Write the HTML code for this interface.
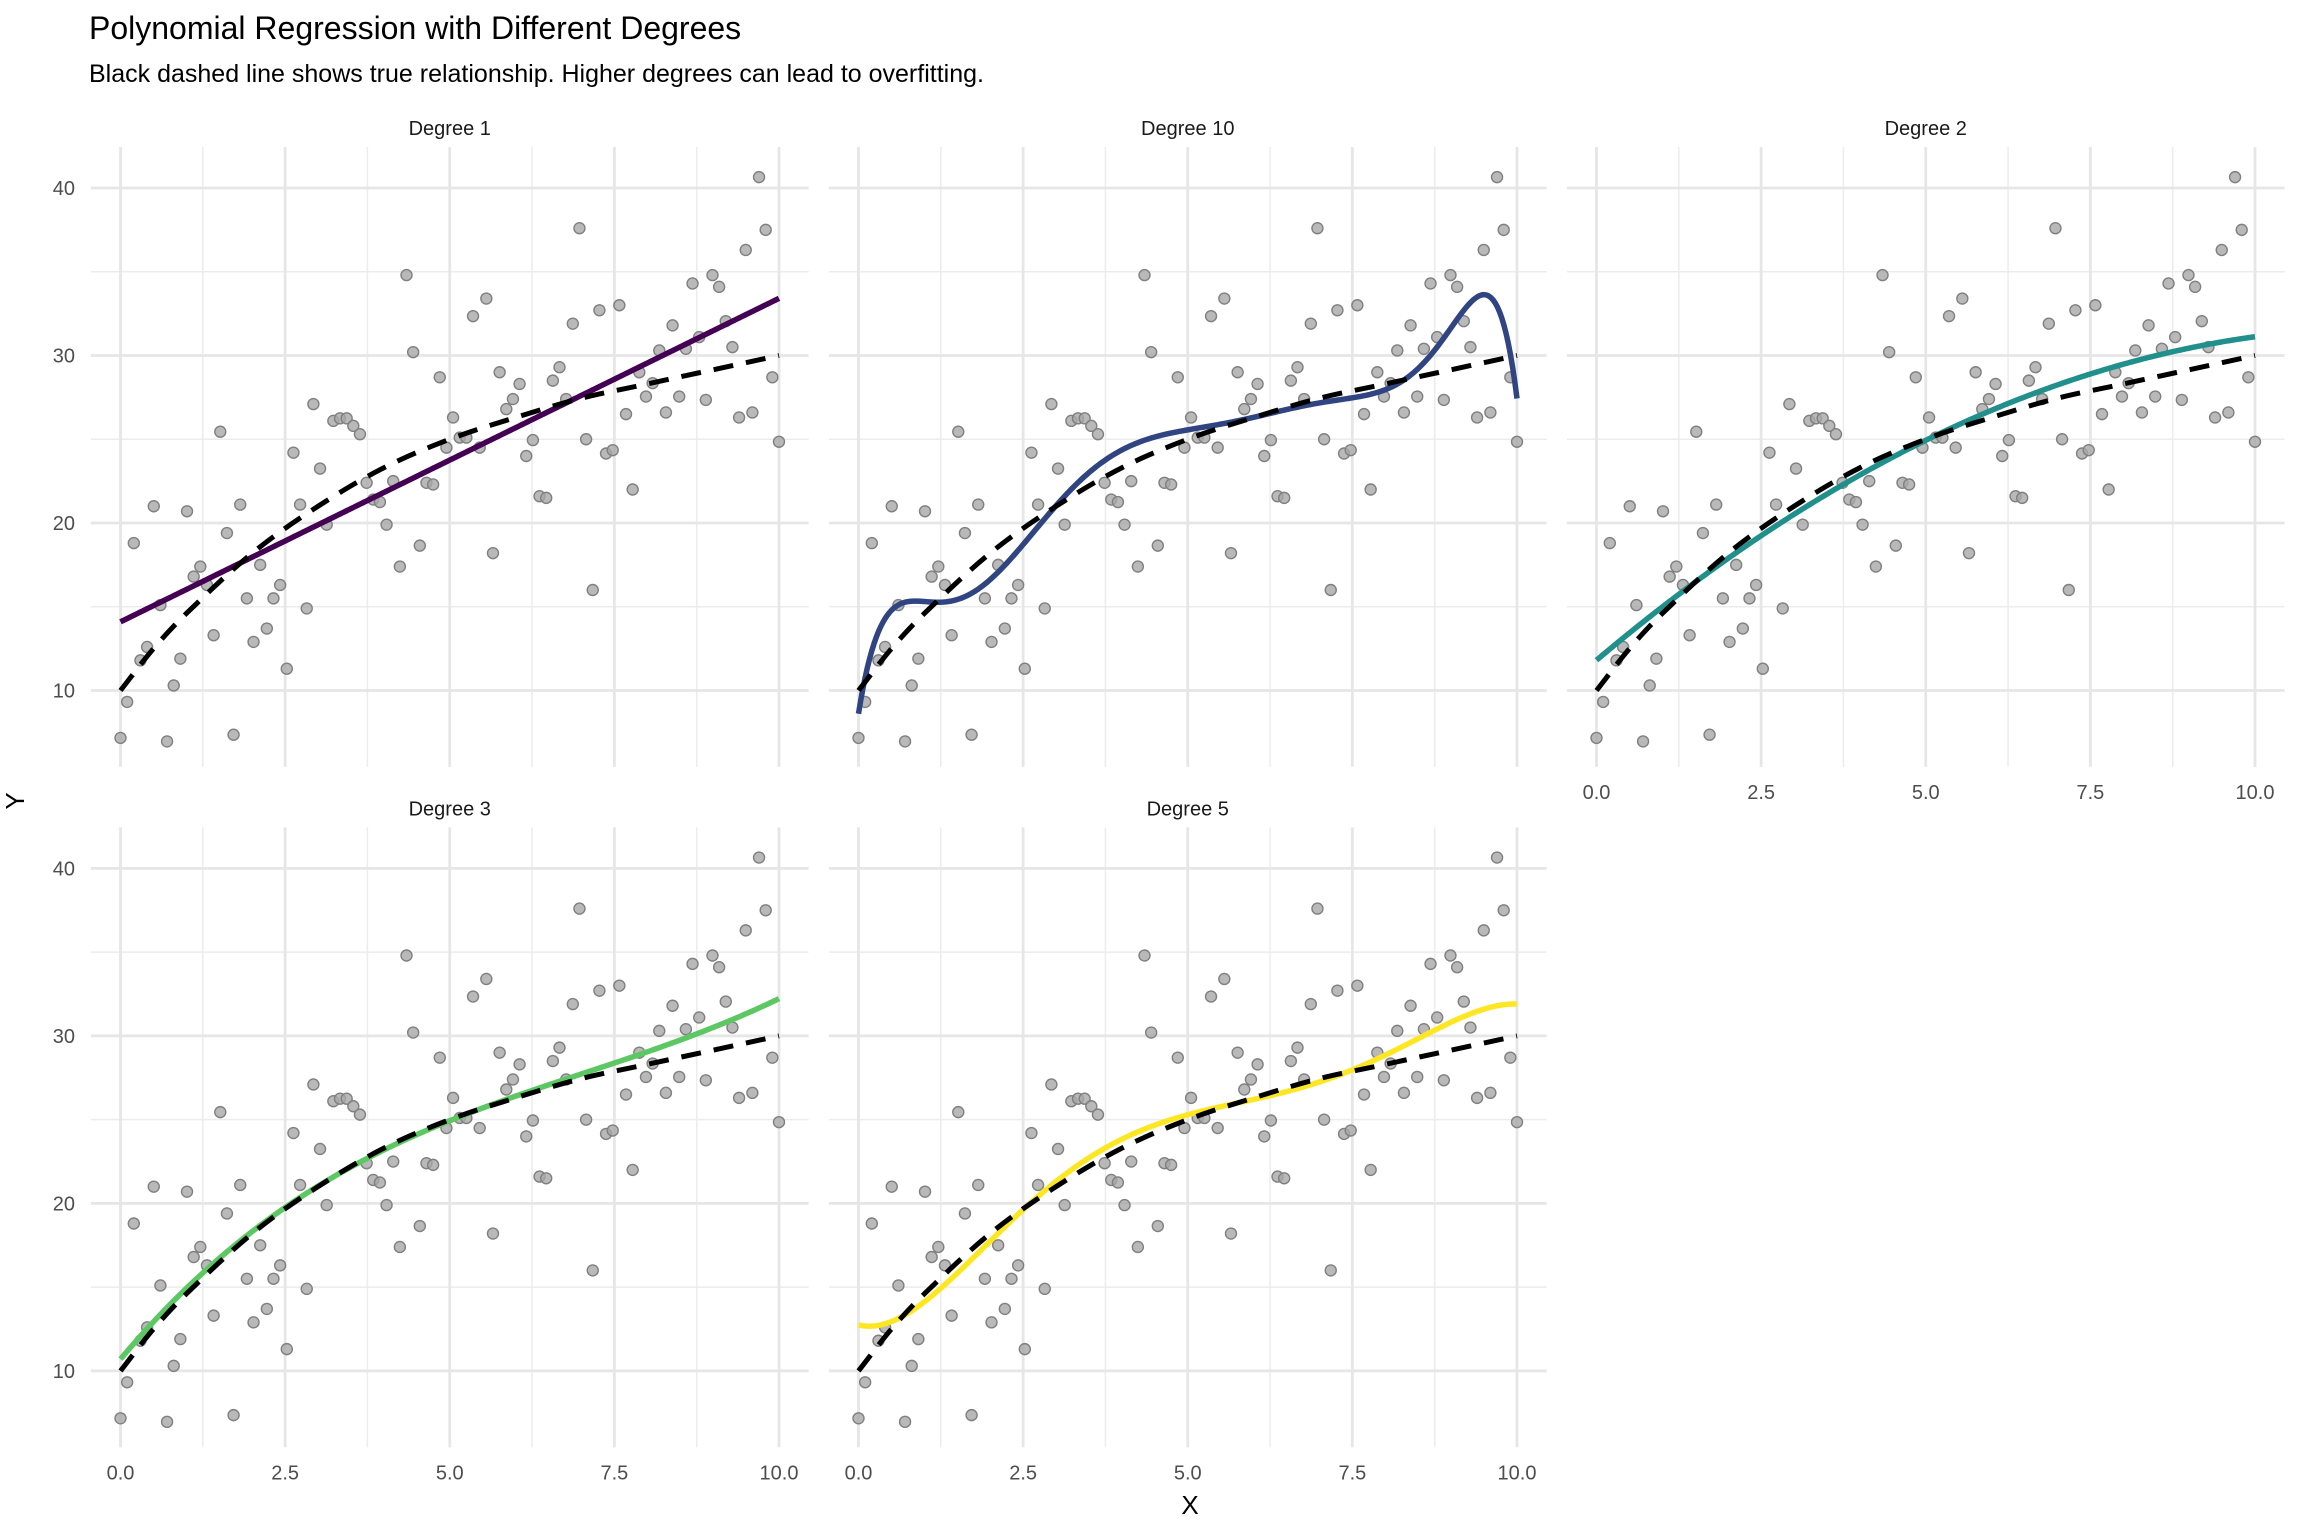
<!DOCTYPE html>
<html><head><meta charset="utf-8">
<style>
html,body{margin:0;padding:0;background:#fff;}
svg{display:block;font-family:"Liberation Sans",Arial,sans-serif;}
</style></head>
<body>
<svg id="chart" width="2304" height="1536" viewBox="0 0 2304 1536" xmlns="http://www.w3.org/2000/svg">
<rect x="0" y="0" width="2304" height="1536" fill="#ffffff"/>
<text x="89" y="39" font-size="32" fill="#000">Polynomial Regression with Different Degrees</text>
<text x="89" y="82" font-size="25" fill="#000">Black dashed line shows true relationship. Higher degrees can lead to overfitting.</text>
<text x="24" y="801" font-size="26" fill="#000" text-anchor="middle" transform="rotate(-90 24 801)">Y</text>
<text x="1190" y="1514" font-size="26" fill="#000" text-anchor="middle">X</text>
<g id="panels"></g>
</svg>
<script>
// ---- data ----
const pointY = [7.17,9.32,18.8,11.8,12.6,21.0,15.1,6.96,10.3,11.9,
20.7,16.8,17.4,16.3,13.3,25.45,19.4,7.36,21.1,15.5,
12.9,17.5,13.7,15.5,16.3,11.3,24.2,21.1,14.9,27.1,
23.25,19.9,26.1,26.25,26.25,25.8,25.3,22.4,21.4,21.25,
19.9,22.5,17.4,34.8,30.2,18.65,22.4,22.3,28.7,24.5,
26.3,25.1,25.1,32.35,24.5,33.4,18.2,29.0,26.8,27.4,
28.3,24.0,24.95,21.6,21.5,28.5,29.3,27.4,31.9,37.6,
25.0,16.0,32.7,24.15,24.35,33.0,26.5,22.0,29.0,27.55,
28.35,30.3,26.6,31.8,27.55,30.4,34.3,31.1,27.35,34.8,
34.1,32.05,30.5,26.3,36.3,26.6,40.65,37.5,28.7,24.85];
const pointX = pointY.map((_, i) => i * 10 / 99);
const trueX = [0,0.5,1,2,3,4,5,6,7,8,9,10];
const trueY = [10,12.5,14.6,18.2,21.0,23.3,25.0,26.3,27.45,28.3,29.15,30];
const panelNames = ["Degree 1","Degree 10","Degree 2","Degree 3","Degree 5"];
const degrees = [1,10,2,3,5];
const colors = ["#440154","#2f4480","#21908c","#5dc863","#fde725"];
const xTicks = [0,2.5,5,7.5,10];
const xTickLabels = ["0.0","2.5","5.0","7.5","10.0"];
const xMinor = [1.25,3.75,6.25,8.75];
const yTicks = [10,20,30,40];
const yTickLabels = ["10","20","30","40"];
const yMinor = [15,25,35];

// ---- layout ----
const NS = "http://www.w3.org/2000/svg";
const XMIN=-0.45, XMAX=10.45, YMIN=5.44, YMAX=42.45;
const PPUX=65.85, PPUY=16.75;
const colX0=[120.5,858.5,1596.5];
const rowY40=[188,868.4];
const panelPos=[[0,0],[0,1],[0,2],[1,0],[1,1]];
const root=document.getElementById('panels');
function mk(tag, attrs, parent){const e=document.createElementNS(NS,tag);for(const k in attrs)e.setAttribute(k,attrs[k]);parent.appendChild(e);return e;}

function fit(deg){
  const n=deg+1, A=[], b=new Array(n).fill(0);
  for(let i=0;i<n;i++)A.push(new Array(n).fill(0));
  for(let k=0;k<pointX.length;k++){
    const t=(pointX[k]-5)/5, p=[1];
    for(let j=1;j<n;j++)p.push(p[j-1]*t);
    for(let i=0;i<n;i++){b[i]+=p[i]*pointY[k];for(let j=0;j<n;j++)A[i][j]+=p[i]*p[j];}
  }
  for(let c=0;c<n;c++){
    let m=c;for(let r=c+1;r<n;r++)if(Math.abs(A[r][c])>Math.abs(A[m][c]))m=r;
    [A[c],A[m]]=[A[m],A[c]];[b[c],b[m]]=[b[m],b[c]];
    for(let r=c+1;r<n;r++){const f=A[r][c]/A[c][c];for(let j=c;j<n;j++)A[r][j]-=f*A[c][j];b[r]-=f*b[c];}
  }
  const co=new Array(n).fill(0);
  for(let i=n-1;i>=0;i--){let s=b[i];for(let j=i+1;j<n;j++)s-=A[i][j]*co[j];co[i]=s/A[i][i];}
  return x=>{const t=(x-5)/5;let s=0,p=1;for(let i=0;i<n;i++){s+=co[i]*p;p*=t;}return s;};
}
function catmull(xs,ys,sx,sy){
  let d=`M${sx(xs[0])},${sy(ys[0])}`;
  for(let i=0;i<xs.length-1;i++){
    const h=xs[i+1]-xs[i];
    const m1=i>0?(ys[i+1]-ys[i-1])/(xs[i+1]-xs[i-1]):(ys[1]-ys[0])/(xs[1]-xs[0]);
    const j=Math.min(i+2,xs.length-1);
    const m2=i+2<xs.length?(ys[j]-ys[i])/(xs[j]-xs[i]):(ys[i+1]-ys[i])/h;
    const c1x=xs[i]+h/3,c1y=ys[i]+m1*h/3,c2x=xs[i+1]-h/3,c2y=ys[i+1]-m2*h/3;
    d+=` C${sx(c1x)},${sy(c1y)} ${sx(c2x)},${sy(c2y)} ${sx(xs[i+1])},${sy(ys[i+1])}`;
  }
  return d;
}

panelNames.forEach((name,pi)=>{
  const [r,c]=panelPos[pi];
  const sx=x=>colX0[c]+x*PPUX;
  const sy=y=>rowY40[r]+(40-y)*PPUY;
  const g=mk('g',{},root);
  
  
  const L=sx(XMIN),R=sx(XMAX),T=sy(YMAX),B=sy(YMIN);
  const st=mk('text',{x:(L+R)/2,y:rowY40[r]-53,'font-size':20,'text-anchor':'middle',fill:'#1a1a1a'},g);
  st.textContent=name;
  
  
  xMinor.forEach(v=>{const l=mk('line',{x1:sx(v),x2:sx(v),y1:T,y2:B,stroke:'#ececec','stroke-width':1.5},g);});
  yMinor.forEach(v=>{const l=mk('line',{x1:L,x2:R,y1:sy(v),y2:sy(v),stroke:'#ececec','stroke-width':1.5},g);});
  xTicks.forEach(v=>{const l=mk('line',{x1:sx(v),x2:sx(v),y1:T,y2:B,stroke:'#e6e6e6','stroke-width':2.8},g);});
  yTicks.forEach(v=>{const l=mk('line',{x1:L,x2:R,y1:sy(v),y2:sy(v),stroke:'#e6e6e6','stroke-width':2.8},g);});
  if(c===0){yTicks.forEach((v,i)=>{const t=mk('text',{x:75,y:sy(v)+7,'font-size':20,'text-anchor':'end',fill:'#4d4d4d'},g);t.textContent=yTickLabels[i];});}
  if(r===1||c===2){xTicks.forEach((v,i)=>{const t=mk('text',{x:sx(v),y:B+32,'font-size':20,'text-anchor':'middle',fill:'#4d4d4d'},g);t.textContent=xTickLabels[i];});}
  pointX.forEach((x,i)=>{const p=mk('circle',{cx:sx(x),cy:sy(pointY[i]),r:5.5,fill:'#a8a8a8',stroke:'#808080','stroke-width':1.4,'fill-opacity':0.8},g);});
  const f=fit(degrees[pi]);
  let d='';
  for(let k=0;k<=300;k++){const x=10*k/300;d+=(k?'L':'M')+sx(x).toFixed(2)+','+sy(f(x)).toFixed(2);}
  const fl=mk('path',{d:d,fill:'none',stroke:colors[pi],'stroke-width':5.5,'stroke-linejoin':'round'},g);
  
  
  const tl=mk('path',{d:catmull(trueX,trueY,sx,sy),fill:'none',stroke:'#000','stroke-width':5,'stroke-dasharray':'20 13'},g);
  
  
});
</script>
</body></html>
